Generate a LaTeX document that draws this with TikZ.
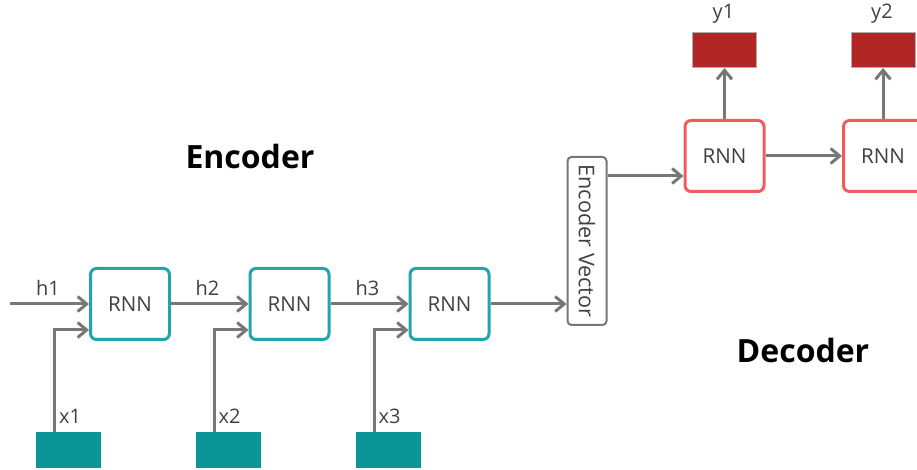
\documentclass[tikz,border=0pt]{standalone}
\usepackage{fontspec}
\setmainfont{Open Sans}
\usetikzlibrary{arrows.meta}
\definecolor{CellTeal}{HTML}{22A5A7}
\definecolor{InTeal}{HTML}{0A9696}
\definecolor{CellRed}{HTML}{F25B5B}
\definecolor{OutRed}{HTML}{B32626}
\definecolor{LinkGray}{HTML}{777777}

\tikzset{
    cell/.style={draw, line width=1.5pt, rounded corners=3pt, fill=white,
        minimum width=39.5pt, minimum height=35.5pt, inner sep=0pt,
        font=\fontsize{10.3}{12}\selectfont, text=black!75},
    encell/.style={cell, draw=CellTeal},
    decell/.style={cell, draw=CellRed},
    inbox/.style={fill=InTeal, minimum width=32.5pt, minimum height=18pt, inner sep=0pt},
    outbox/.style={fill=OutRed, draw=LinkGray!60, line width=0.5pt,
        minimum width=32pt, minimum height=17.5pt, inner sep=0pt},
    link/.style={draw=LinkGray, line width=1.5pt, -{Straight Barb[length=4.5pt,width=7.5pt]}},
    tag/.style={font=\fontsize{10}{12}\selectfont, text=black!75},
    title/.style={font=\fontsize{16}{18}\selectfont\bfseries}
}

\begin{document}
\begin{tikzpicture}[x=0.5pt, y=-0.5pt]
    \useasboundingbox (0,0) rectangle (917,470);
    \clip (0,0) rectangle (917,470);

    % encoder cells, their inputs and hidden states
    \foreach \i/\cx in {1/130, 2/289.5, 3/449.5} {
        \node[encell] (rnn\i) at (\cx,304) {RNN};
        \node[inbox] (in\i) at (\cx-61.5,450) {};
        \node[tag] at (\cx-60,416) {x\i};
        \node[tag] at (\cx-82,288) {h\i};
        \draw[link] ([xshift=-7pt]in\i.north) |- ([yshift=-13pt]rnn\i.west);
    }
    \coordinate (h0) at (10,304);
    \draw[link] (h0) -- (rnn1.west);
    \draw[link] (rnn1.east) -- (rnn2.west);
    \draw[link] (rnn2.east) -- (rnn3.west);

    % encoder vector
    \node[draw=LinkGray, line width=1pt, rounded corners=2pt, rotate=-90,
        minimum width=84pt, minimum height=19.5pt, inner sep=0pt,
        font=\fontsize{10.8}{12}\selectfont, text=black!75] (enc) at (587,241) {Encoder Vector};
    \draw[link] (rnn3.east) -- (rnn3.east -| enc.south);

    % decoder cells and outputs
    \foreach \j/\cx in {1/724.5, 2/883} {
        \node[decell] (dec\j) at (\cx,156) {RNN};
        \node[outbox] (out\j) at (\cx,50) {};
        \node[tag] at (\cx-1,14) {y\j};
        \draw[link] (dec\j.north) -- (out\j.south);
    }
    \coordinate (dec1in) at ([yshift=-10pt]dec1.west);
    \draw[link] (enc.north |- dec1in) -- (dec1in);
    \draw[link] (dec1.east) -- (dec2.west);

    \node[title] at (250,157) {Encoder};
    \node[title] at (803,351) {Decoder};
\end{tikzpicture}
\end{document}
